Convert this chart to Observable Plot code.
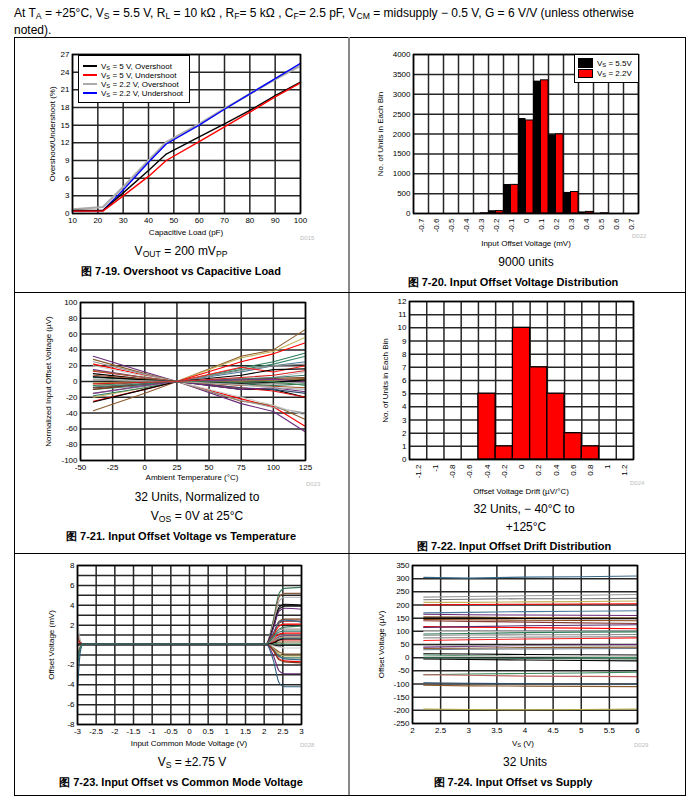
<!DOCTYPE html>
<html><head><meta charset="utf-8">
<script src="https://cdn.jsdelivr.net/npm/d3@7"></script>
<script src="https://cdn.jsdelivr.net/npm/@observablehq/plot@0.6"></script>
<style>
body{margin:0;background:#fff;font-family:"Liberation Sans",Arial,Helvetica,sans-serif;color:#000;}
#page{position:relative;width:699px;height:801px;overflow:hidden;background:#fff;}
.abs{position:absolute;}
.pan{position:absolute;width:336px;}
.pan svg{display:block;max-width:none !important;overflow:visible;}
.ctr{position:absolute;text-align:center;white-space:nowrap;transform:translate(-50%,-50%);}
sub{font-size:0.72em;line-height:0;vertical-align:-0.28em;}
.axl{font-size:8px;}
.note{font-size:12px;}
.cap{font-size:11px;font-weight:bold;}
.dcode{position:absolute;font-size:6px;color:#bbb;}
.leg{position:absolute;background:#fff;border:1px solid #000;font-size:8px;}
.legrow{position:absolute;white-space:nowrap;transform:translateY(-50%);}
#err{position:absolute;left:20px;top:300px;color:#c00;font-size:11px;white-space:pre-wrap;width:650px;}
</style>
</head><body>
<div id="page">
  <div id="p1" class="pan" style="left:14px;top:38px;"></div>
  <div id="p2" class="pan" style="left:349px;top:38px;"></div>
  <div id="p3" class="pan" style="left:14px;top:293px;"></div>
  <div id="p4" class="pan" style="left:349px;top:293px;"></div>
  <div id="p5" class="pan" style="left:14px;top:556px;"></div>
  <div id="p6" class="pan" style="left:349px;top:556px;"></div>

  <div class="abs" style="left:14px;top:5px;font-size:12px;line-height:17px;">At T<sub>A</sub> = +25°C, V<sub>S</sub> = 5.5 V, R<sub>L</sub> = 10 kΩ , R<sub>F</sub>= 5 kΩ , C<sub>F</sub>= 2.5 pF, V<sub>CM</sub> = midsupply − 0.5 V, G = 6 V/V (unless otherwise<br>noted).</div>
  <div class="abs" style="left:14px;top:37px;width:670px;height:757px;border:1px solid #000;"></div>
  <div class="abs" style="left:348px;top:37px;width:2px;height:758px;background:#888;"></div>
  <div class="abs" style="left:14px;top:292px;width:671px;height:1px;background:#000;"></div>
  <div class="abs" style="left:14px;top:553px;width:671px;height:1px;background:#000;"></div>

  <!-- panel 1 texts -->
  <div class="leg" style="left:78px;top:55px;width:110px;height:46px;">
    <div class="abs" style="left:4px;top:9px;width:14px;height:1.5px;background:#000;"></div>
    <div class="legrow" style="left:22px;top:10px;">V<sub>S</sub> = 5 V, Overshoot</div>
    <div class="abs" style="left:4px;top:18px;width:14px;height:1.5px;background:#f00;"></div>
    <div class="legrow" style="left:22px;top:19px;">V<sub>S</sub> = 5 V, Undershoot</div>
    <div class="abs" style="left:4px;top:27px;width:14px;height:2px;background:#aaa;"></div>
    <div class="legrow" style="left:22px;top:28px;">V<sub>S</sub> = 2.2 V, Overshoot</div>
    <div class="abs" style="left:4px;top:36px;width:14px;height:1.5px;background:#00f;"></div>
    <div class="legrow" style="left:22px;top:37px;">V<sub>S</sub> = 2.2 V, Undershoot</div>
  </div>
  <div class="ctr axl" style="left:186px;top:232px;">Capacitive Load (pF)</div>
  <div class="dcode" style="left:300px;top:235px;">D015</div>
  <div class="ctr note" style="left:181px;top:251px;">V<sub>OUT</sub> = 200 mV<sub>PP</sub></div>
  <div class="ctr cap" style="left:181px;top:271px;">图 7-19. Overshoot vs Capacitive Load</div>

  <!-- panel 2 texts -->
  <div class="leg" style="left:574px;top:54px;width:63px;height:27px;">
    <div class="abs" style="left:3px;top:3px;width:15px;height:10px;background:#000;"></div>
    <div class="legrow" style="left:22px;top:8px;">V<sub>S</sub> = 5.5V</div>
    <div class="abs" style="left:3px;top:14px;width:15px;height:9px;background:#f00;border:0.5px solid #000;box-sizing:border-box;"></div>
    <div class="legrow" style="left:22px;top:18px;">V<sub>S</sub> = 2.2V</div>
  </div>
  <div class="ctr axl" style="left:526px;top:243px;">Input Offset Voltage (mV)</div>
  <div class="dcode" style="left:632px;top:233px;">D022</div>
  <div class="ctr note" style="left:526px;top:262px;">9000 units</div>
  <div class="ctr cap" style="left:513px;top:282px;">图 7-20. Input Offset Voltage Distribution</div>

  <!-- panel 3 texts -->
  <div class="ctr axl" style="left:192px;top:477px;">Ambient Temperature (°C)</div>
  <div class="dcode" style="left:306px;top:481px;">D023</div>
  <div class="ctr note" style="left:197px;top:497px;">32 Units, Normalized to</div>
  <div class="ctr note" style="left:197px;top:516px;">V<sub>OS</sub> = 0V at 25°C</div>
  <div class="ctr cap" style="left:181px;top:536px;">图 7-21. Input Offset Voltage vs Temperature</div>

  <!-- panel 4 texts -->
  <div class="ctr axl" style="left:521px;top:491px;">Offset Voltage Drift (µV/°C)</div>
  <div class="dcode" style="left:630px;top:480px;">D024</div>
  <div class="ctr note" style="left:524px;top:509px;">32 Units,  − 40°C to</div>
  <div class="ctr note" style="left:526px;top:527px;">+125°C</div>
  <div class="ctr cap" style="left:514px;top:546px;">图 7-22. Input Offset Drift Distribution</div>

  <!-- panel 5 texts -->
  <div class="ctr axl" style="left:189px;top:743px;">Input Common Mode Voltage (V)</div>
  <div class="dcode" style="left:300px;top:742px;">D028</div>
  <div class="ctr note" style="left:192px;top:762px;">V<sub>S</sub> = ±2.75 V</div>
  <div class="ctr cap" style="left:181px;top:782px;">图 7-23. Input Offset vs Common Mode Voltage</div>

  <!-- panel 6 texts -->
  <div class="ctr axl" style="left:523px;top:743px;">V<sub>S</sub> (V)</div>
  <div class="dcode" style="left:634px;top:742px;">D029</div>
  <div class="ctr note" style="left:525px;top:762px;">32 Units</div>
  <div class="ctr cap" style="left:513px;top:782px;">图 7-24. Input Offset vs Supply</div>
  <div id="err"></div>
</div>
<script>
// ---------- Panel 1: Overshoot vs Capacitive Load ----------
const capLoad = [10, 22, 30, 40, 47, 60, 70, 80, 90, 100];
const overshoot5 = [0.5, 0.5, 3.5, 7.3, 10.1, 13.0, 15.2, 17.5, 20.0, 22.3];
const undershoot5 = [0.4, 0.4, 3.0, 6.3, 9.0, 12.2, 14.7, 17.2, 19.8, 22.2];
const overshoot22 = [0.7, 1.1, 4.5, 9.0, 12.1, 15.2, 17.8, 20.3, 22.8, 25.1];
const undershoot22 = [0.4, 0.5, 4.0, 8.7, 11.8, 15.0, 17.7, 20.3, 22.9, 25.5];
const capTicks = [10, 20, 30, 40, 50, 60, 70, 80, 90, 100];
const pctTicks = [0, 3, 6, 9, 12, 15, 18, 21, 24, 27];

// ---------- Panel 2: Input Offset Voltage Distribution ----------
const vosBins = [-0.7, -0.6, -0.5, -0.4, -0.3, -0.2, -0.1, 0, 0.1, 0.2, 0.3, 0.4, 0.5, 0.6, 0.7];
const count55 = [0, 0, 0, 0, 5, 70, 730, 2390, 3330, 1980, 530, 40, 5, 0, 0];
const count22 = [0, 0, 0, 0, 5, 60, 720, 2340, 3350, 1990, 540, 40, 5, 0, 0];
const countTicks = [0, 500, 1000, 1500, 2000, 2500, 3000, 3500, 4000];

// ---------- Panel 3: Input Offset Voltage vs Temperature ----------
const temps = [-40, 0, 25, 75, 100, 125];
const tempSeries = [
  [-37,-15,0,32,40,66],[-20,-8,0,30,38,56],[-25,-10,0,25,35,49],[-18,-8,0,17,25,36],
  [-10,-5,0,15,22,32],[-8,-4,0,12,20,25],[-15,-6,0,14,20,22],[-5,-2,0,18,12,20],
  [-26,-10,0,8,15,16],[-5,-2,0,4,5,12],[-10,-3,0,3,4,5],[-8,-3,0,2,2,3],
  [-2,0,0,1,2,2],[-7,-3,0,3,5,8],[32,12,0,-28,-38,-64],[22,8,0,-22,-32,-57],
  [28,10,0,-25,-30,-48],[25,9,0,-24,-33,-40],[20,7,0,-20,-30,-43],[10,3,0,-10,-10,-20],
  [13,5,0,-8,-12,-20],[6,2,0,-8,-10,-15],[15,5,0,-10,-8,-13],[8,3,0,-5,-6,-8],
  [5,2,0,-3,-5,-3],[2,0,0,-2,-3,-1],[14,5,0,0,2,4],[-15,-5,0,2,3,0],
  [6,2,0,-2,-1,2],[-5,-1,0,-1,0,-5],[3,1,0,-4,-8,-10],[-3,-1,0,5,8,14]
];
const tempTicks = [-50, -25, 0, 25, 50, 75, 100, 125];
const uvTicks = [-100, -80, -60, -40, -20, 0, 20, 40, 60, 80, 100];

// ---------- Panel 4: Input Offset Drift Distribution ----------
const driftBins = [-1.2, -1, -0.8, -0.6, -0.4, -0.2, 0, 0.2, 0.4, 0.6, 0.8, 1, 1.2];
const driftCounts = [0, 0, 0, 0, 5, 1, 10, 7, 5, 2, 1, 0, 0];
const unitTicks = [0, 1, 2, 3, 4, 5, 6, 7, 8, 9, 10, 11, 12];

// ---------- Panel 5: Input Offset vs Common Mode Voltage ----------
const cmv = [-3, -2.92, -2.85, 2.05, 2.25, 2.4, 2.55, 3];
const cmvSeries = [
  [0.1,0.1,0.1,0.1,2.6,5.2,5.7,5.8],[0.1,0.1,0.1,0.1,2.4,4.8,5.2,5.2],[2.3,0.4,0.1,0.1,2.2,4.4,4.8,4.8],
  [0.1,0.1,0.1,0.1,1.9,3.8,4.1,4.0],[0.1,0.1,0.1,0.1,1.8,3.6,3.9,3.9],[0.1,0.1,0.1,0.1,1.7,3.4,3.7,3.6],
  [1.0,0.2,0.1,0.1,1.2,2.4,2.6,2.6],[0.1,0.1,0.1,0.1,1.1,2.2,2.4,2.4],[0.1,0.1,0.1,0.1,1.2,2.3,2.5,2.3],
  [0.1,0.1,0.1,0.1,1.0,1.9,2.1,2.1],[-2.0,-0.3,0.1,0.1,0.9,1.6,1.8,1.9],[0.1,0.1,0.1,0.1,0.6,1.1,1.2,1.2],
  [0.1,0.1,0.1,0.1,0.5,0.9,1.0,1.0],[0.1,0.1,0.1,0.1,0.4,0.8,0.9,0.9],[0.1,0.1,0.1,0.1,0.4,0.7,0.8,0.8],
  [0.1,0.1,0.1,0.1,0.3,0.6,0.7,0.7],[0.5,0.2,0.1,0.1,0.3,0.5,0.5,0.5],[0.1,0.1,0.1,0.1,0.2,0.3,0.3,0.3],
  [0.1,0.1,0.1,0.1,0.0,-0.1,0.0,0.0],[0.1,0.1,0.1,0.1,0.1,0.2,0.1,0.1],[0.1,0.1,0.1,0.1,-0.1,-0.2,-0.3,-0.3],
  [-1.0,-0.1,0.1,0.1,-0.3,-0.7,-0.9,-0.9],[0.1,0.1,0.1,0.1,-0.4,-0.9,-1.1,-1.1],[0.1,0.1,0.1,0.1,-0.5,-1.1,-1.3,-1.3],
  [0.1,0.1,0.1,0.1,-0.5,-1.2,-1.4,-1.5],[0.1,0.1,0.1,0.1,-0.6,-1.4,-1.6,-1.7],[0.1,0.1,0.1,0.1,-0.6,-1.5,-1.7,-1.8],
  [0.1,0.1,0.1,0.1,-1.1,-2.6,-2.9,-2.9],[-4.5,-0.6,0.1,0.1,-1.6,-3.8,-4.2,-4.2],[0.1,0.1,0.1,0.1,0.7,1.5,1.6,1.6],
  [0.1,0.1,0.1,0.1,0.2,0.5,0.6,0.6],[-1.5,-0.2,0.1,0.1,0.8,1.3,1.4,1.4]
];
const cmvTicks = [-3, -2.5, -2, -1.5, -1, -0.5, 0, 0.5, 1, 1.5, 2, 2.5, 3];
const mvGrid = [-8, -7, -6, -5, -4, -3, -2, -1, 0, 1, 2, 3, 4, 5, 6, 7, 8];
const mvLabels = [-8, -6, -4, -2, 2, 4, 6, 8];

// ---------- Panel 6: Input Offset vs Supply ----------
const supply = [2.2, 3, 4, 5, 6];
const supplySeries = [
  [305,302,306,307,310],[230,232,235,237,240],[220,222,224,224,225],[210,210,212,213,215],
  [200,202,203,204,205],[170,172,175,176,178],[165,163,162,161,160],[155,154,152,151,150],
  [150,150,149,148,148],[145,144,142,141,140],[140,138,135,132,130],[118,116,114,112,110],
  [115,118,121,123,125],[100,100,100,100,100],[90,92,95,97,98],[75,76,78,79,80],
  [65,68,71,73,75],[40,43,46,48,50],[35,36,38,39,40],[30,32,33,34,35],
  [45,45,45,45,45],[15,14,12,11,10],[10,7,4,2,0],[5,5,5,5,5],
  [-5,-7,-9,-11,-12],[0,-1,-3,-4,-5],[-65,-62,-60,-58,-55],[-65,-67,-70,-71,-72],
  [-95,-97,-99,-100,-100],[-105,-107,-108,-109,-110],[-195,-197,-198,-197,-195],[85,86,87,87,88]
];
const supplyTicks = [2, 2.5, 3, 3.5, 4, 4.5, 5, 5.5, 6];
const vosUvTicks = [-250, -200, -150, -100, -50, 0, 50, 100, 150, 200, 250, 300, 350];

// ---------- styles ----------
const tempColors = ["#8b5a2b","#c8b45a","#ff0000","#2e7d5b","#3f8f6f","#4a7a9a","#8c8c8c","#ff2020",
  "#000000","#c0c0c0","#7a3a1a","#8b2323","#9a9a40","#3a7a6a","#6a2a7a","#ff0000",
  "#8b5a2b","#999999","#cccccc","#000000","#e01010","#2f4f6f","#6a2a7a","#a0522d",
  "#2e6b4b","#888888","#9a6a3a","#7a3a8a","#000000","#3a8a5a","#aaaaaa","#d02020"];
const cmvColors = ["#3d7a5c","#8b5a3c","#aaaaaa","#000000","#111111","#6a2a7a","#7a3a1a","#8b2a2a",
  "#3a6a8a","#ff0000","#3d7a5c","#ff0000","#999999","#6a2a7a","#c0b060","#3a6a8a",
  "#e02020","#8b5a2b","#000000","#3a8a5a","#cccccc","#8b5a2b","#c0b060","#3d7a5c",
  "#3a6a8a","#ff0000","#7a3a1a","#6a2a7a","#2f5f7f","#999999","#000000","#3a7a6a"];
const supplyColors = ["#3a6a8a","#999999","#777777","#c8b45a","#ff0000","#4a7a9a","#6a2a7a","#8b5a2b",
  "#000000","#8b4513","#8b3a3a","#ff0000","#5a2a6a","#bbbbbb","#2e7d5b","#999999",
  "#ff2020","#6a2a7a","#8b5a2b","#6a7a8a","#aaaaaa","#000000","#3a8a5a","#cccccc",
  "#000000","#2e6b4b","#3a8a5a","#c06060","#2f4f6f","#8b5a2b","#b5a642","#888888"];

const FONT = '"Liberation Sans", Arial, Helvetica, sans-serif';
const GRID = "#262626";
const GW = 1.5;
const plotStyle = {fontFamily: FONT, fontSize: "8px", color: "#000", background: "transparent", overflow: "visible", maxWidth: "none"};
const hy = d => String(d);
const yAxis = (ticks, label, off, fmt) => Plot.axisY(ticks, {tickSize: 0, tickPadding: 3, tickFormat: fmt || hy,
  label, labelAnchor: "center", labelOffset: off, labelArrow: "none"});
const xAxis = (ticks, fmt) => Plot.axisX(ticks, {tickSize: 0, tickPadding: 4, tickFormat: fmt || hy, label: null});
const frameMark = () => Plot.frame({stroke: "#000", strokeWidth: 1.5});
const errs = [];
function draw(id, fn) {
  try { document.getElementById(id).append(fn()); }
  catch (e) { errs.push(id + ": " + e.message); document.getElementById("err").textContent = errs.join("\n"); }
}

draw("p1", () => Plot.plot({
  width: 335, height: 200, marginLeft: 58, marginRight: 49, marginTop: 16, marginBottom: 25, style: plotStyle,
  x: {domain: [10, 100]}, y: {domain: [0, 27]},
  marks: [
    Plot.gridX(capTicks, {stroke: GRID, strokeWidth: GW, strokeOpacity: 1}),
    Plot.gridY(pctTicks, {stroke: GRID, strokeWidth: GW, strokeOpacity: 1}),
    xAxis(capTicks),
    yAxis(pctTicks, "Overshoot/Undershoot (%)", 23),
    Plot.line(capLoad, {x: d => d, y: overshoot22, stroke: "#aaaaaa", strokeWidth: 2.2}),
    Plot.line(capLoad, {x: d => d, y: undershoot22, stroke: "#0000ff", strokeWidth: 1.4}),
    Plot.line(capLoad, {x: d => d, y: overshoot5, stroke: "#000000", strokeWidth: 1.4}),
    Plot.line(capLoad, {x: d => d, y: undershoot5, stroke: "#ff0000", strokeWidth: 1.4}),
    frameMark()
  ]
}));

const vosEdges = vosBins.map(b => b - 0.05).concat([vosBins[vosBins.length - 1] + 0.05]);
draw("p2", () => Plot.plot({
  width: 336, height: 215, marginLeft: 64, marginRight: 47, marginTop: 16, marginBottom: 40, style: plotStyle,
  x: {domain: [-0.75, 0.75]}, y: {domain: [0, 4000]},
  marks: [
    Plot.ruleX(vosEdges, {stroke: GRID, strokeWidth: GW}),
    Plot.gridY(countTicks, {stroke: GRID, strokeWidth: GW, strokeOpacity: 1}),
    Plot.rect(vosBins, {x1: d => d - 0.05, x2: d => d, y1: () => 0, y2: count55, fill: "#000"}),
    Plot.rect(vosBins, {x1: d => d, x2: d => d + 0.05, y1: () => 0, y2: count22, fill: "#ff0000", stroke: "#000", strokeWidth: 1}),
    Plot.axisX(vosBins, {tickSize: 0, tickPadding: 5, tickRotate: -90, tickFormat: hy, label: null}),
    yAxis(countTicks, "No. of Units in Each Bin", 36),
    frameMark()
  ]
}));

draw("p3", () => Plot.plot({
  width: 335, height: 185, marginLeft: 66, marginRight: 44, marginTop: 9, marginBottom: 18, style: plotStyle,
  x: {domain: [-50, 125]}, y: {domain: [-100, 100]},
  marks: [
    Plot.gridX(tempTicks, {stroke: GRID, strokeWidth: GW, strokeOpacity: 1}),
    Plot.gridY(uvTicks, {stroke: GRID, strokeWidth: GW, strokeOpacity: 1}),
    xAxis(tempTicks),
    yAxis(uvTicks, "Normalized Input Offset Voltage (µV)", 35),
    ...tempSeries.map((vals, k) => Plot.line(vals, {x: temps, y: d => d, stroke: tempColors[k], strokeWidth: 1.1})),
    frameMark()
  ]
}));

const driftEdges = driftBins.map(b => b - 0.1).concat([driftBins[driftBins.length - 1] + 0.1]);
draw("p4", () => Plot.plot({
  width: 336, height: 190, marginLeft: 60, marginRight: 52, marginTop: 8, marginBottom: 24, style: plotStyle,
  x: {domain: [-1.3, 1.3]}, y: {domain: [0, 12]},
  marks: [
    Plot.ruleX(driftEdges, {stroke: GRID, strokeWidth: GW}),
    Plot.gridY(unitTicks, {stroke: GRID, strokeWidth: GW, strokeOpacity: 1}),
    Plot.rect(driftBins.filter((b, i) => driftCounts[i] > 0),
      {x1: d => d - 0.1, x2: d => d + 0.1, y1: () => 0, y2: d => driftCounts[driftBins.indexOf(d)],
       fill: "#ff0000", stroke: "#000", strokeWidth: 1.3}),
    Plot.axisX(driftBins, {tickSize: 0, tickPadding: 5, tickRotate: -90, tickFormat: hy, label: null}),
    yAxis(unitTicks, "No. of Units in Each Bin", 27),
    frameMark()
  ]
}));

draw("p5", () => Plot.plot({
  width: 335, height: 183, marginLeft: 63, marginRight: 48, marginTop: 9, marginBottom: 15, style: plotStyle,
  x: {domain: [-3, 3]}, y: {domain: [-8, 8]},
  marks: [
    Plot.gridX(cmvTicks, {stroke: GRID, strokeWidth: GW, strokeOpacity: 1}),
    Plot.gridY(mvGrid, {stroke: GRID, strokeWidth: GW, strokeOpacity: 1}),
    xAxis(cmvTicks),
    yAxis(mvLabels, "Offset Voltage (mV)", 29),
    ...cmvSeries.map((vals, k) => Plot.line(vals, {x: cmv, y: d => d, stroke: cmvColors[k], strokeWidth: 1.1, curve: "monotone-x"})),
    frameMark()
  ]
}));

draw("p6", () => Plot.plot({
  width: 336, height: 183, marginLeft: 63, marginRight: 48, marginTop: 9, marginBottom: 16, style: plotStyle,
  x: {domain: [2, 6]}, y: {domain: [-250, 350]},
  marks: [
    Plot.gridX(supplyTicks, {stroke: GRID, strokeWidth: GW, strokeOpacity: 1}),
    Plot.gridY(vosUvTicks, {stroke: GRID, strokeWidth: GW, strokeOpacity: 1}),
    xAxis(supplyTicks),
    yAxis(vosUvTicks, "Offset Voltage (µV)", 34),
    ...supplySeries.map((vals, k) => Plot.line(vals, {x: supply, y: d => d, stroke: supplyColors[k], strokeWidth: 1.1})),
    frameMark()
  ]
}));
</script>
</body></html>
